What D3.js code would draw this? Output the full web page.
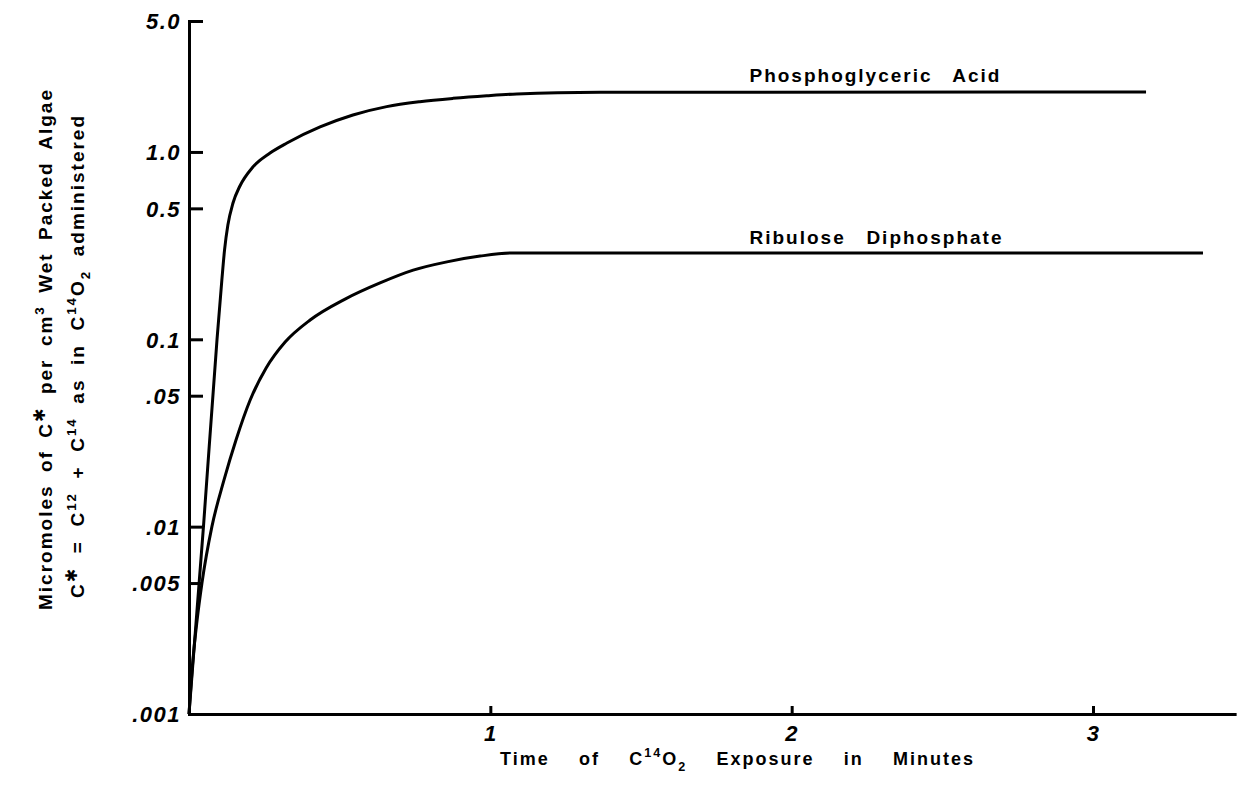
<!DOCTYPE html>
<html>
<head>
<meta charset="utf-8">
<script src="https://cdn.jsdelivr.net/npm/d3@7"></script>
<style>
  html, body { margin: 0; padding: 0; background: #fff; }
  svg { display: block; }
  text { font-family: "Liberation Sans", Arial, sans-serif; fill: #000; white-space: pre; }
</style>
</head>
<body>
<svg id="chart" width="1238" height="800"></svg>
<script>
// Minutes of C14O2 exposure and micromoles of C* per cm3 of wet packed algae
const pgaTime  = [0, 0.048, 0.093, 0.109, 0.118, 0.129, 0.146, 0.169, 0.212, 0.269, 0.325, 0.435, 0.544, 0.656, 0.766, 0.876, 0.988, 1.088, 1.364, 3.176];
const pgaValue = [0.001, 0.01, 0.1, 0.207, 0.30, 0.407, 0.534, 0.658, 0.831, 0.987, 1.116, 1.359, 1.574, 1.745, 1.854, 1.932, 1.995, 2.04, 2.08, 2.09];

const rudpTime  = [0, 0.013, 0.027, 0.043, 0.076, 0.116, 0.156, 0.203, 0.256, 0.319, 0.402, 0.518, 0.634, 0.744, 0.856, 0.966, 1.075, 3.365];
const rudpValue = [0.001, 0.00194, 0.00318, 0.005, 0.01, 0.0177, 0.029, 0.0474, 0.0703, 0.0967, 0.1268, 0.164, 0.2, 0.234, 0.259, 0.278, 0.289, 0.289];

const seriesLabels = ["Phosphoglyceric Acid", "Ribulose Diphosphate"];

const xTicks = [1, 2, 3];
const xTickLabels = ["1", "2", "3"];
const xMax = 3.47;

const yTicks = [5, 1, 0.5, 0.1, 0.05, 0.01, 0.005, 0.001];
const yTickLabels = ["5.0", "1.0", "0.5", "0.1", ".05", ".01", ".005", ".001"];

const svg = d3.select("#chart");

const x = d3.scaleLinear().domain([0, 3]).range([189, 1093]);
const y = d3.scaleLog().domain([0.001, 5]).range([714, 21]);
const xAxisScale = x.copy().domain([0, xMax]).range([x(0), x(xMax)]);

// ---- axes ----
const yAxis = d3.axisLeft(y)
  .tickValues(yTicks)
  .tickFormat((d, i) => yTickLabels[i])
  .tickSize(-14)
  .tickSizeOuter(0)
  .tickPadding(8);

const xAxis = d3.axisBottom(xAxisScale)
  .tickValues(xTicks)
  .tickFormat((d, i) => xTickLabels[i])
  .tickSize(-8)
  .tickSizeOuter(0)
  .tickPadding(11);

const gy = svg.append("g").attr("transform", `translate(${x(0)},0)`).call(yAxis);
const gx = svg.append("g").attr("transform", `translate(0,${y(0.001)})`).call(xAxis);

[gx, gy].forEach(g => {
  g.select(".domain").attr("stroke", "#000").attr("stroke-width", 3).attr("stroke-linecap", "square");
  g.selectAll(".tick line").attr("stroke", "#000").attr("stroke-width", 3);
  g.selectAll(".tick text")
    .attr("fill", "#000")
    .style("font-family", '"Liberation Sans", Arial, sans-serif')
    .style("font-style", "italic")
    .style("font-weight", "bold")
    .style("font-size", "22px")
    .style("letter-spacing", "1.5px");
});
gy.selectAll(".tick text").attr("dy", "0.36em");

// ---- curves ----
const line = d3.line()
  .x(d => x(d.t))
  .y(d => y(d.v))
  .curve(d3.curveMonotoneX);

const pga = pgaTime.map((t, i) => ({ t, v: pgaValue[i] }));
const rudp = rudpTime.map((t, i) => ({ t, v: rudpValue[i] }));

[pga, rudp].forEach(s => {
  svg.append("path")
    .datum(s)
    .attr("d", line)
    .attr("fill", "none")
    .attr("stroke", "#000")
    .attr("stroke-width", 3)
    .attr("stroke-linejoin", "round");
});

// ---- text helpers ----
// parts: plain runs, superscripts (sup), subscripts (sub) and the C* star mark
function rich(sel, parts, size) {
  let off = 0;
  parts.forEach(p => {
    let target = 0;
    if (p.sup) target = -0.42 * size;
    if (p.sub) target = 0.32 * size;
    if (p.star) target = -0.38 * size;
    const ts = sel.append("tspan").text(p.t).attr("dy", target - off);
    if (p.sup || p.sub) ts.attr("font-size", size * 0.7);
    if (p.star) ts.attr("font-size", size * 0.85).style("font-family", '"DejaVu Sans", sans-serif');
    off = target;
  });
  return sel;
}
// spread the word gaps so a line covers the given length
function fit(sel, target) {
  const spaces = (sel.text().match(/ /g) || []).length;
  const w = sel.node().getComputedTextLength();
  sel.style("word-spacing", ((target - w) / spaces) + "px");
}

const labelStyle = (sel, size) => sel
  .style("font-size", size + "px")
  .style("font-weight", "bold")
  .style("letter-spacing", "2px");

// series labels sitting on their plateaus
const labelT = 1.86;
const pgaLabel = svg.append("text").attr("x", x(labelT)).attr("y", y(pgaValue[pgaValue.length - 1]) - 10)
  .call(labelStyle, 19).text(seriesLabels[0]);
fit(pgaLabel, 252);
const rudpLabel = svg.append("text").attr("x", x(labelT)).attr("y", y(rudpValue[rudpValue.length - 1]) - 9)
  .call(labelStyle, 19).text(seriesLabels[1]);
fit(rudpLabel, 254);

// x axis title
const xTitle = svg.append("text").attr("x", 500).attr("y", 765).call(labelStyle, 18);
rich(xTitle, [
  { t: "Time of C" }, { t: "14", sup: true }, { t: "O" }, { t: "2", sub: true },
  { t: " Exposure in Minutes" }
], 18);
fit(xTitle, 475);

// y axis title, two rotated lines
const yTitle1 = svg.append("text").attr("transform", "translate(52,610) rotate(-90)").call(labelStyle, 19);
rich(yTitle1, [
  { t: "Micromoles of C" }, { t: "✱", star: true }, { t: " per cm" }, { t: "3", sup: true },
  { t: " Wet Packed Algae" }
], 19);
fit(yTitle1, 522);

const yTitle2 = svg.append("text").attr("transform", "translate(84,598) rotate(-90)").call(labelStyle, 19);
rich(yTitle2, [
  { t: "C" }, { t: "✱", star: true }, { t: " = C" }, { t: "12", sup: true }, { t: " + C" }, { t: "14", sup: true },
  { t: " as in C" }, { t: "14", sup: true }, { t: "O" }, { t: "2", sub: true }, { t: " administered" }
], 19);
fit(yTitle2, 484);
</script>
</body>
</html>
